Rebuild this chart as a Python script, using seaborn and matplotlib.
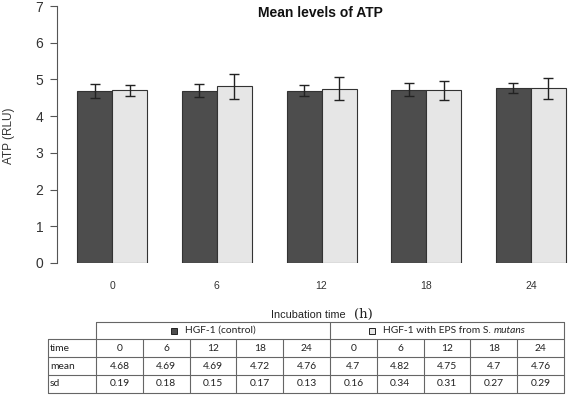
import matplotlib
matplotlib.use("Agg")
import matplotlib.pyplot as plt
from matplotlib.patches import Rectangle
import seaborn as sns
import pandas as pd

# ---- data ----
times = [0, 6, 12, 18, 24]
groups = ["HGF-1 (control)", "HGF-1 with EPS from S. mutans"]
control_mean = [4.68, 4.69, 4.69, 4.72, 4.76]
control_sd = [0.19, 0.18, 0.15, 0.17, 0.13]
eps_mean = [4.7, 4.82, 4.75, 4.7, 4.76]
eps_sd = [0.16, 0.34, 0.31, 0.27, 0.29]
y_ticks = [0, 1, 2, 3, 4, 5, 6, 7]
title = "Mean levels of ATP"
ylabel = "ATP (RLU)"
row_labels = ["time", "mean", "sd"]

sns.set_style("white")
plt.rcParams["font.family"] = ["Liberation Sans", "DejaVu Sans"]

DARK = "#4d4d4d"
LIGHT = "#e6e6e6"
EDGE = "#333333"

W, H = 569, 397
fig = plt.figure(figsize=(W / 100, H / 100), dpi=100)

ax = fig.add_axes([57.3 / W, 1 - 263 / H, (W - 57.3) / W, (263 - 6) / H])

tlabels = [str(t) for t in times]
df = pd.DataFrame({
    "time": tlabels * 2,
    "group": [groups[0]] * len(times) + [groups[1]] * len(times),
    "mean": control_mean + eps_mean,
})
sns.barplot(data=df, x="time", y="mean", hue="group", order=tlabels,
            hue_order=groups, palette=[DARK, LIGHT], saturation=1,
            width=0.668, errorbar=None, edgecolor=EDGE, linewidth=0.8,
            legend=False, ax=ax)

for cont, means, sds in zip(ax.containers, [control_mean, eps_mean], [control_sd, eps_sd]):
    xs = [p.get_x() + p.get_width() / 2 for p in cont]
    ax.errorbar(xs, means, yerr=sds, fmt="none", ecolor="#222222",
                elinewidth=1.0, capsize=3.5, capthick=1.0, zorder=5)

ax.set_xlim(-0.523, 4.363)
ax.set_ylim(0, 7)
ax.set_yticks(y_ticks)
for s in ["top", "right", "bottom"]:
    ax.spines[s].set_visible(False)
ax.spines["left"].set_color("#555555")
ax.spines["left"].set_linewidth(0.8)
ax.tick_params(axis="y", length=5, width=0.8, color="#555555", pad=5,
               labelsize=10, labelcolor="#333333", left=True)
ax.tick_params(axis="x", length=0, pad=13, labelsize=7.5, labelcolor="#333333")
ax.set_xlabel("")
ax.set_ylabel("")

fig.text(320 / W, 1 - 13 / H, title, ha="center", va="center",
         fontsize=10, fontweight="bold", color="#111111")
fig.text(9 / W, 1 - 136 / H, ylabel, rotation=90, ha="center", va="center",
         fontsize=8.5, color="#333333")

# ---- table below the chart ----
tab = fig.add_axes([0, 0, 1, 1])
tab.set_xlim(0, W)
tab.set_ylim(H, 0)
tab.axis("off")
tab.patch.set_alpha(0)

renderer = fig.canvas.get_renderer()

def text_width_px(t):
    bb = t.get_window_extent(renderer=renderer)
    return bb.width

# Incubation time (h)
t1 = tab.text(0, 315, "Incubation time", ha="left", va="center",
              fontsize=7.8, color="#222222")
t2 = tab.text(0, 314, "(h)", ha="left", va="center", fontsize=9.5,
              family="DejaVu Serif", color="#222222")
w1, w2 = text_width_px(t1), text_width_px(t2)
gap = 8
x0 = 322 - (w1 + gap + w2) / 2
t1.set_x(x0)
t2.set_x(x0 + w1 + gap)

LC = "#666666"
LW = 0.8
label_left = 48
data_left = 96
data_right = 564
ncol = len(times) * 2
cw = (data_right - data_left) / ncol
row_y = [321.7, 339.3, 357.3, 375.0, 392.7]

# header box
tab.plot([data_left, data_right], [row_y[0], row_y[0]], color=LC, lw=LW)
tab.plot([data_left, data_left], [row_y[0], row_y[1]], color=LC, lw=LW)
mid = data_left + cw * len(times)
tab.plot([mid, mid], [row_y[0], row_y[1]], color=LC, lw=LW)
tab.plot([data_right, data_right], [row_y[0], row_y[1]], color=LC, lw=LW)
# body horizontal lines
for y in row_y[1:]:
    tab.plot([label_left, data_right], [y, y], color=LC, lw=LW)
# body vertical lines
for k in range(ncol + 1):
    x = data_left + k * cw
    tab.plot([x, x], [row_y[1], row_y[4]], color=LC, lw=LW)
tab.plot([label_left, label_left], [row_y[1], row_y[4]], color=LC, lw=LW)

TFONT = "Lato"
TFS = 7.4

# header cells with legend squares
hy = (row_y[0] + row_y[1]) / 2
sq = 6
for gi, (g, col) in enumerate(zip(groups, [DARK, LIGHT])):
    cx = data_left + cw * len(times) * (gi + 0.5)
    if "S. mutans" in g:
        pre = g.replace("mutans", "")
        ta = tab.text(0, hy, pre, ha="left", va="center", fontsize=TFS,
                      family=TFONT, color="#222222")
        tb = tab.text(0, hy, "mutans", ha="left", va="center", fontsize=TFS,
                      family=TFONT, style="italic", color="#222222")
        wa, wb = text_width_px(ta), text_width_px(tb)
        total = sq + 8 + wa + wb
        sx = cx - total / 2
        ta.set_x(sx + sq + 8)
        tb.set_x(sx + sq + 8 + wa)
    else:
        ta = tab.text(0, hy, g, ha="left", va="center", fontsize=TFS,
                      family=TFONT, color="#222222")
        wa = text_width_px(ta)
        total = sq + 8 + wa
        sx = cx - total / 2
        ta.set_x(sx + sq + 8)
    tab.add_patch(Rectangle((sx, hy - sq / 2), sq, sq, facecolor=col,
                            edgecolor="#222222", lw=0.7))

rows = [
    [str(t) for t in times] * 2,
    [f"{v:g}" for v in control_mean + eps_mean],
    [f"{v:g}" for v in control_sd + eps_sd],
]
for ri, (lab, vals) in enumerate(zip(row_labels, rows)):
    yc = (row_y[ri + 1] + row_y[ri + 2]) / 2
    tab.text(label_left + 2, yc, lab, ha="left", va="center", fontsize=TFS,
             family=TFONT, color="#222222")
    for k, v in enumerate(vals):
        tab.text(data_left + (k + 0.5) * cw, yc, v, ha="center", va="center",
                 fontsize=TFS, family=TFONT, color="#222222")

fig.savefig("out.png", dpi=100)
